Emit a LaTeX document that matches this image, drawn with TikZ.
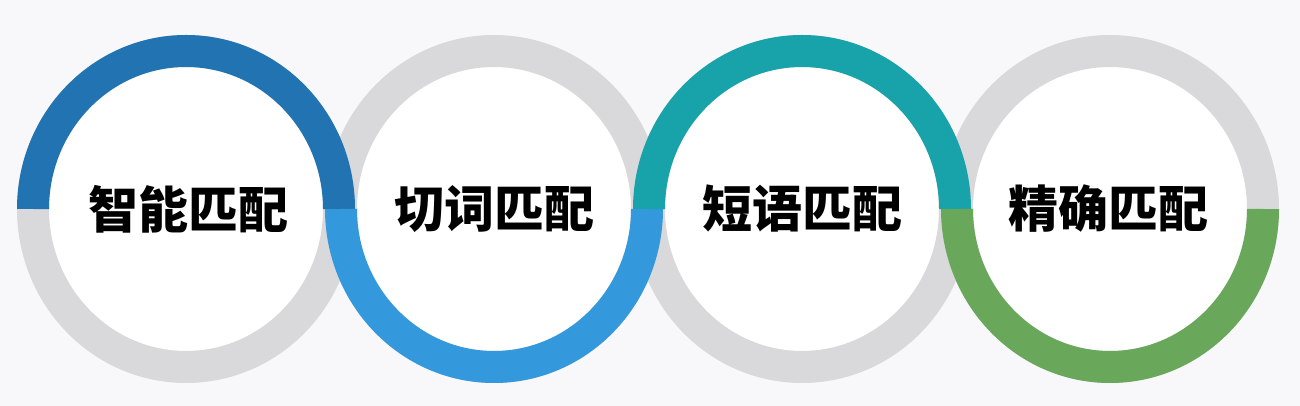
\documentclass[tikz,border=0pt]{standalone}
\usepackage{fontspec}
\newfontfamily\cjk{Noto Sans CJK SC}[BoldFont={Noto Sans CJK SC Black}]
\definecolor{bgc}{HTML}{F8F8FA}
\definecolor{ringgray}{HTML}{D9D8DA}
\definecolor{cblue}{HTML}{2174B1}
\definecolor{clight}{HTML}{3398DC}
\definecolor{cteal}{HTML}{18A3AA}
\definecolor{cgreen}{HTML}{69A75A}
\tikzset{
  band/.style={line width=32pt},
  label/.style={font=\cjk\bfseries\fontsize{50pt}{54pt}\selectfont, text=black, inner sep=0pt},
}
\begin{document}
\begin{tikzpicture}[x=1pt,y=1pt]
\fill[bgc] (0,0) rectangle (1300,406);
\useasboundingbox (0,0) rectangle (1300,406);
\foreach \cx in {186,494,802,1110}{
  \fill[white] (\cx,197) ellipse[x radius=153, y radius=158];
}
\foreach \cx in {186,494,802,1110}{
  \draw[band, ringgray] (\cx,197) ellipse[x radius=153, y radius=158];
}
\draw[band, cblue] (186,197) ++(-153,0) arc[start angle=180, end angle=0, x radius=153, y radius=158];
\draw[band, clight] (494,197) ++(-153,0) arc[start angle=180, end angle=360, x radius=153, y radius=158];
\draw[band, cteal] (802,197) ++(-153,0) arc[start angle=180, end angle=0, x radius=153, y radius=158];
\draw[band, cgreen] (1110,197) ++(-153,0) arc[start angle=180, end angle=360, x radius=153, y radius=158];
\node[label] (t1) at (188,197) {智能匹配};
\node[label] (t2) at (494,197) {切词匹配};
\node[label] (t3) at (802,197) {短语匹配};
\node[label] (t4) at (1108,197) {精确匹配};
\end{tikzpicture}
\end{document}
